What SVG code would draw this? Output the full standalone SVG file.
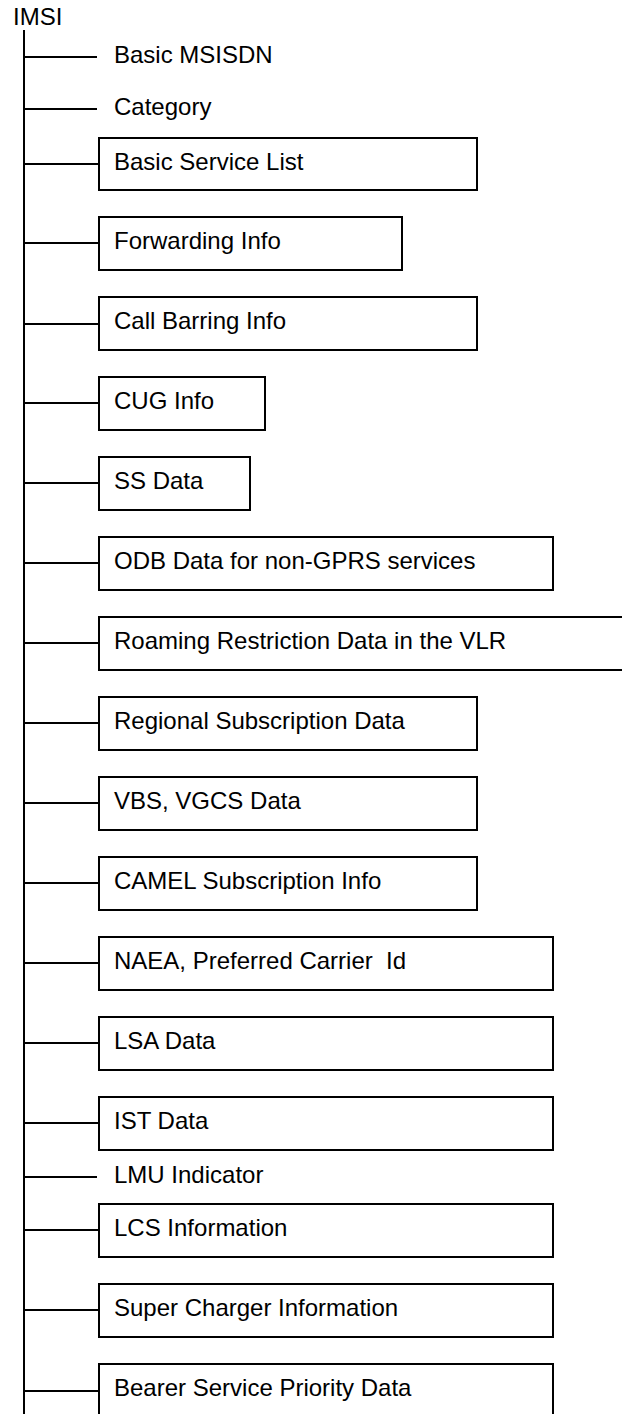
<svg xmlns="http://www.w3.org/2000/svg" width="622" height="1414" viewBox="0 0 622 1414">
<style>
.t{font-family:"Liberation Sans",Arial,sans-serif;font-size:24px;fill:#000}
.b{fill:#fff;stroke:#000;stroke-width:2}
.c{stroke:#000;stroke-width:2;fill:none}
</style>
<rect width="622" height="1414" fill="#fff"/>
<g id="connectors" class="c">
<line x1="24" y1="30" x2="24" y2="1414"/>
<line x1="24" y1="57" x2="97" y2="57"/>
<line x1="24" y1="109" x2="97" y2="109"/>
<line x1="24" y1="164" x2="99" y2="164"/>
<line x1="24" y1="243" x2="99" y2="243"/>
<line x1="24" y1="324" x2="99" y2="324"/>
<line x1="24" y1="403" x2="99" y2="403"/>
<line x1="24" y1="483" x2="99" y2="483"/>
<line x1="24" y1="563" x2="99" y2="563"/>
<line x1="24" y1="643" x2="99" y2="643"/>
<line x1="24" y1="723" x2="99" y2="723"/>
<line x1="24" y1="803" x2="99" y2="803"/>
<line x1="24" y1="883" x2="99" y2="883"/>
<line x1="24" y1="963" x2="99" y2="963"/>
<line x1="24" y1="1043" x2="99" y2="1043"/>
<line x1="24" y1="1123" x2="99" y2="1123"/>
<line x1="24" y1="1177" x2="97" y2="1177"/>
<line x1="24" y1="1230" x2="99" y2="1230"/>
<line x1="24" y1="1310" x2="99" y2="1310"/>
<line x1="24" y1="1391" x2="99" y2="1391"/>
</g>
<g id="imsi"><text class="t" x="13" y="25">IMSI</text></g>
<g id="basic-msisdn"><text class="t" x="114" y="63">Basic MSISDN</text></g>
<g id="category"><text class="t" x="114" y="115">Category</text></g>
<g id="basic-service-list"><rect class="b" x="99" y="138" width="378" height="52"/><text class="t" x="114" y="170">Basic Service List</text></g>
<g id="forwarding-info"><rect class="b" x="99" y="217" width="303" height="53"/><text class="t" x="114" y="249">Forwarding Info</text></g>
<g id="call-barring-info"><rect class="b" x="99" y="297" width="378" height="53"/><text class="t" x="114" y="329">Call Barring Info</text></g>
<g id="cug-info"><rect class="b" x="99" y="377" width="166" height="53"/><text class="t" x="114" y="409">CUG Info</text></g>
<g id="ss-data"><rect class="b" x="99" y="457" width="151" height="53"/><text class="t" x="114" y="489">SS Data</text></g>
<g id="odb-data"><rect class="b" x="99" y="537" width="454" height="53"/><text class="t" x="114" y="569">ODB Data for non-GPRS services</text></g>
<g id="roaming-restriction"><rect class="b" x="99" y="617" width="540" height="53"/><text class="t" x="114" y="649">Roaming Restriction Data in the VLR</text></g>
<g id="regional-subscription"><rect class="b" x="99" y="697" width="378" height="53"/><text class="t" x="114" y="729">Regional Subscription Data</text></g>
<g id="vbs-vgcs"><rect class="b" x="99" y="777" width="378" height="53"/><text class="t" x="114" y="809">VBS, VGCS Data</text></g>
<g id="camel"><rect class="b" x="99" y="857" width="378" height="53"/><text class="t" x="114" y="889">CAMEL Subscription Info</text></g>
<g id="naea"><rect class="b" x="99" y="937" width="454" height="53"/><text class="t" x="114" y="969" xml:space="preserve">NAEA, Preferred Carrier  Id</text></g>
<g id="lsa-data"><rect class="b" x="99" y="1017" width="454" height="53"/><text class="t" x="114" y="1049">LSA Data</text></g>
<g id="ist-data"><rect class="b" x="99" y="1097" width="454" height="53"/><text class="t" x="114" y="1129">IST Data</text></g>
<g id="lmu-indicator"><text class="t" x="114" y="1183">LMU Indicator</text></g>
<g id="lcs-information"><rect class="b" x="99" y="1204" width="454" height="53"/><text class="t" x="114" y="1236">LCS Information</text></g>
<g id="super-charger"><rect class="b" x="99" y="1284" width="454" height="53"/><text class="t" x="114" y="1316">Super Charger Information</text></g>
<g id="bearer-service-priority"><rect class="b" x="99" y="1364" width="454" height="60"/><text class="t" x="114" y="1396">Bearer Service Priority Data</text></g>
</svg>
